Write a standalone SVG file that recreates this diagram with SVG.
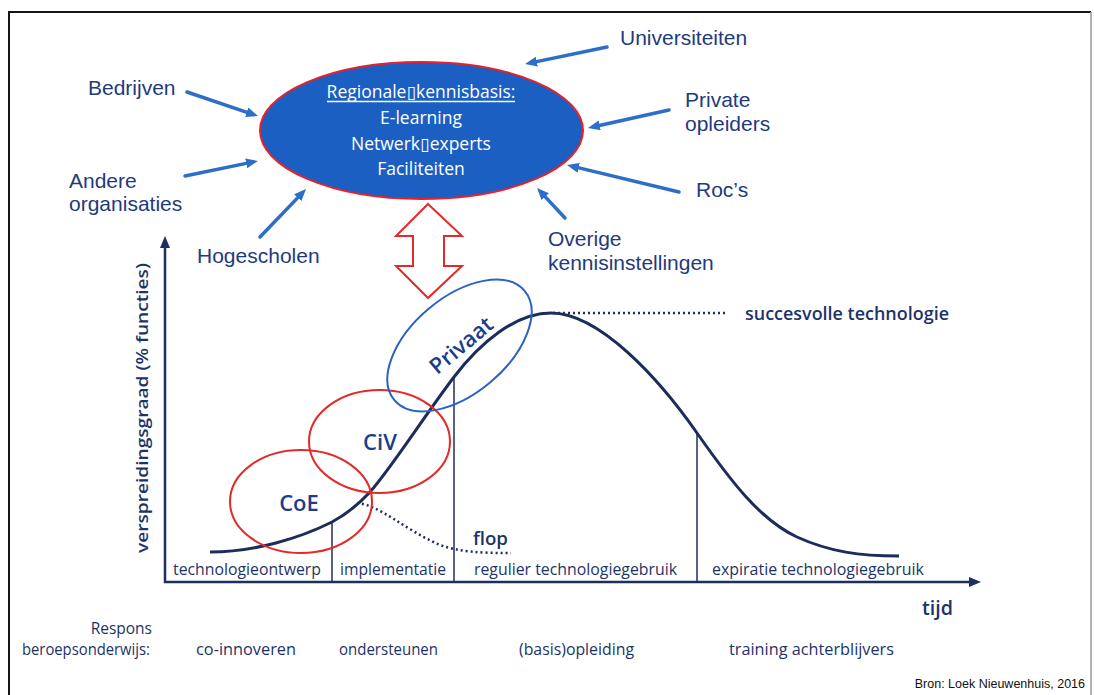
<svg xmlns="http://www.w3.org/2000/svg" width="1094" height="695" viewBox="0 0 1094 695">
  <defs>
    <marker id="blueHead" markerUnits="userSpaceOnUse" markerWidth="13" markerHeight="11" refX="5" refY="5" orient="auto">
      <path d="M0,0 L12,5 L0,10 z" fill="#2d6ec8"/>
    </marker>
  </defs>
  <style>
    .lbl{font-family:"Liberation Sans",Arial,sans-serif;font-size:21px;fill:#1f3a7d}
    .inner{font-family:"Open Sans","Liberation Sans","DejaVu Sans",sans-serif;font-size:17.5px;fill:#ffffff;text-anchor:middle}
    .ch{font-family:"Open Sans","Liberation Sans",sans-serif;fill:#1d3367}
    .phase{font-size:15.5px}
    .resp{font-size:15.5px}
    .strong{font-weight:600}
    .feed{stroke:#2d6ec8;stroke-width:3.5;fill:none;stroke-linecap:round;marker-end:url(#blueHead)}
    .axis{stroke:#1d2f5e;stroke-width:2.5;fill:none}
    .divider{stroke:#1d2f5e;stroke-width:1.5}
    .dots{stroke:#1d2f5e;stroke-width:2.5;fill:none;stroke-dasharray:2 3}
    .zone{fill:none;stroke:#e32a2a;stroke-width:2}
    .zoneB{fill:none;stroke:#2a63c4;stroke-width:2}
    .zoneTxt{font-family:"Open Sans","Liberation Sans",sans-serif;font-size:22px;font-weight:600;fill:#1c3d8c}
  </style>

  <!-- frame -->
  <g id="frame">
    <path d="M9,700 L9,12 L1091,12" fill="none" stroke="#151515" stroke-width="2"/>
    <line x1="1091" y1="12" x2="1091" y2="700" stroke="#9a9a9a" stroke-width="1.5"/>
  </g>

  <!-- central knowledge base -->
  <g id="kennisbasis">
    <ellipse cx="421.5" cy="130.5" rx="161.5" ry="68.5" fill="#1b5fc3" stroke="#e8202a" stroke-width="2"/>
    <text class="inner" x="421" y="98">Regionale▯kennisbasis:</text>
    <line x1="327" y1="101.5" x2="515" y2="101.5" stroke="#ffffff" stroke-width="1.3"/>
    <text class="inner" x="421" y="124">E-learning</text>
    <text class="inner" x="421" y="150">Netwerk▯experts</text>
    <text class="inner" x="421" y="175">Faciliteiten</text>
  </g>

  <!-- contributing parties -->
  <g id="bedrijven"><text class="lbl" x="88" y="95">Bedrijven</text></g>
  <g id="andere-organisaties">
    <text class="lbl" x="69" y="188">Andere</text>
    <text class="lbl" x="69" y="211">organisaties</text>
  </g>
  <g id="hogescholen"><text class="lbl" x="197" y="263">Hogescholen</text></g>
  <g id="universiteiten"><text class="lbl" x="620" y="45">Universiteiten</text></g>
  <g id="private-opleiders">
    <text class="lbl" x="685" y="107">Private</text>
    <text class="lbl" x="685" y="131">opleiders</text>
  </g>
  <g id="rocs"><text class="lbl" x="696" y="197">Roc’s</text></g>
  <g id="overige-kennisinstellingen">
    <text class="lbl" x="548" y="246">Overige</text>
    <text class="lbl" x="548" y="270">kennisinstellingen</text>
  </g>

  <!-- connectors -->
  <g id="connectors">
    <path class="feed" d="M187,92 L251.4,113.8"/>
    <path class="feed" d="M185,176 L251.1,162.4"/>
    <path class="feed" d="M260,237 L301.2,194.1"/>
    <path class="feed" d="M607,47 L531.9,62.6"/>
    <path class="feed" d="M669,110 L594.8,126.5"/>
    <path class="feed" d="M679,192 L573.8,166.6"/>
    <path class="feed" d="M565,218 L541.8,193.1"/>
    <!-- two-way exchange between knowledge base and diffusion curve -->
    <path id="exchange" d="M428,204 L462,236 L444,236 L444,266 L462,266 L428,298 L396,266 L413,266 L413,236 L396,236 Z" fill="#ffffff" stroke="#e32a2a" stroke-width="2" stroke-linejoin="miter"/>
  </g>

  <!-- diffusion chart -->
  <g id="chart">
    <path class="axis" d="M165,246 L165,582 L972,582"/>
    <path d="M165,236 L160,248 L170,248 Z" fill="#1d2f5e"/>
    <path d="M981,582 L969,577 L969,587 Z" fill="#1d2f5e"/>

    <line class="divider" x1="332" y1="522" x2="332" y2="582"/>
    <line class="divider" x1="454" y1="377" x2="454" y2="582"/>
    <line class="divider" x1="697" y1="433" x2="697" y2="582"/>

    <path d="M210,552 C255,552 300,538 332,522 C345,515 358,505 370,492 C390,470 425,415 454,377 C480,343 515,313 551,313 C600,313 660,380 697,433 C730,480 760,520 797,537 C830,552 860,556 899,556" fill="none" stroke="#1c2d5c" stroke-width="3"/>
    <path class="dots" d="M357,503 C380,505 405,530 440,545 C460,552 480,553 511,553"/>
    <path class="dots" d="M553,313 L727,313"/>

    <text class="ch strong" x="745" y="320" font-size="18" textLength="204" lengthAdjust="spacingAndGlyphs">succesvolle technologie</text>
    <text class="ch strong" x="473" y="545" font-size="18" textLength="35" lengthAdjust="spacingAndGlyphs">flop</text>
    <text class="ch strong" x="922" y="615" font-size="20" textLength="31" lengthAdjust="spacingAndGlyphs">tijd</text>
    <text class="ch strong" transform="translate(148,408) rotate(-90)" text-anchor="middle" font-size="16" textLength="290" lengthAdjust="spacingAndGlyphs">verspreidingsgraad (% functies)</text>

    <text class="ch phase" x="173" y="575" textLength="148" lengthAdjust="spacingAndGlyphs">technologieontwerp</text>
    <text class="ch phase" x="340" y="575" textLength="106" lengthAdjust="spacingAndGlyphs">implementatie</text>
    <text class="ch phase" x="474" y="575" textLength="203" lengthAdjust="spacingAndGlyphs">regulier technologiegebruik</text>
    <text class="ch phase" x="712" y="575" textLength="212" lengthAdjust="spacingAndGlyphs">expiratie technologiegebruik</text>
  </g>

  <!-- roles along the curve -->
  <g id="coe">
    <ellipse class="zone" cx="301" cy="501.5" rx="71" ry="51.5"/>
    <text class="zoneTxt" x="299" y="511" text-anchor="middle">CoE</text>
  </g>
  <g id="civ">
    <ellipse class="zone" cx="379.5" cy="441.5" rx="70.5" ry="51.5"/>
    <text class="zoneTxt" x="380" y="450" text-anchor="middle">CiV</text>
  </g>
  <g id="privaat">
    <ellipse class="zoneB" cx="0" cy="0" rx="85" ry="48" transform="translate(459.5,345.5) rotate(-40)"/>
    <text class="zoneTxt" x="0" y="8" text-anchor="middle" transform="translate(461,345) rotate(-40)">Privaat</text>
  </g>

  <!-- response of vocational education -->
  <g id="respons">
    <text class="ch resp" x="152" y="634" text-anchor="end">Respons</text>
    <text class="ch resp" x="22" y="655" textLength="128" lengthAdjust="spacingAndGlyphs">beroepsonderwijs:</text>
    <text class="ch resp" x="196" y="655" textLength="100" lengthAdjust="spacingAndGlyphs">co-innoveren</text>
    <text class="ch resp" x="339" y="655" textLength="99" lengthAdjust="spacingAndGlyphs">ondersteunen</text>
    <text class="ch resp" x="519" y="655" textLength="115" lengthAdjust="spacingAndGlyphs">(basis)opleiding</text>
    <text class="ch resp" x="729" y="655" textLength="165" lengthAdjust="spacingAndGlyphs">training achterblijvers</text>
  </g>

  <g id="bron">
    <text x="1085" y="688" text-anchor="end" font-family="'Liberation Sans',Arial,sans-serif" font-size="12.5" fill="#111111">Bron: Loek Nieuwenhuis, 2016</text>
  </g>
</svg>
